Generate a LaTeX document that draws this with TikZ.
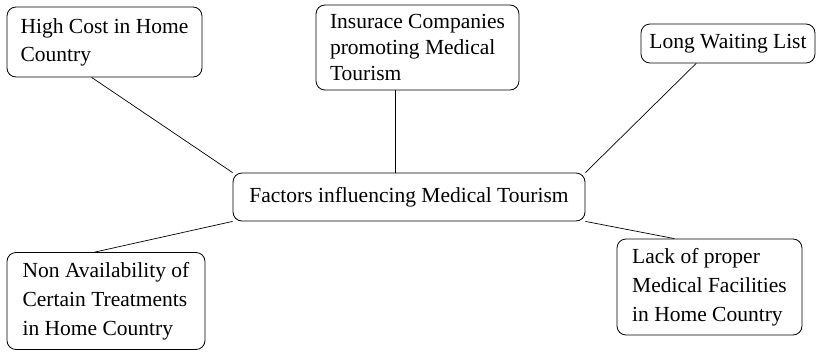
\documentclass[tikz,border=0pt]{standalone}
\usepackage{fontspec}
\setmainfont{Liberation Serif}
\begin{document}
\begin{tikzpicture}[x=1pt,y=-1pt,
        factor/.style={draw, rectangle, rounded corners=9pt, align=left, line width=0.8pt,
            inner sep=0pt, font=\fontsize{21.5}{28}\selectfont},
        link/.style={line width=0.7pt}]
        \useasboundingbox (0,0) rectangle (817,351);
        % Central topic
        \node[factor, minimum width=352pt, minimum height=48pt] (fac) at (409,197) {Factors influencing Medical Tourism};
        
        % Factors around it
        \node[factor, minimum width=195pt, minimum height=70pt] (hc) at (104.5,42) {High Cost in Home\\Country};
        \node[factor, minimum width=203pt, minimum height=85pt, font=\fontsize{21.5}{26}\selectfont] (ins) at (417.5,47.5) {Insurace Companies\\promoting Medical\\Tourism};
        \node[factor, minimum width=174pt, minimum height=39pt] (lw) at (728,43.5) {Long Waiting List};
        \node[factor, minimum width=198pt, minimum height=97pt, font=\fontsize{21.5}{29}\selectfont] (na) at (106,301) {Non Availability of\\Certain Treatments\\in Home Country};
        \node[factor, minimum width=185pt, minimum height=96pt, font=\fontsize{21.5}{29}\selectfont] (lp) at (709.5,287) {Lack of proper\\Medical Facilities\\in Home Country};
        
        \draw[link] (hc.250) -- (fac.north west);
        \draw[link] ([xshift=-22.5pt]ins.south) -- ([xshift=-22.5pt]ins.south |- fac.north);
        \draw[link] (lw.212) -- (fac.north east);
        \draw[link] (na.103) -- (fac.south west);
        \draw[link] (lp.126) -- (fac.south east);
    \end{tikzpicture}
\end{document}
